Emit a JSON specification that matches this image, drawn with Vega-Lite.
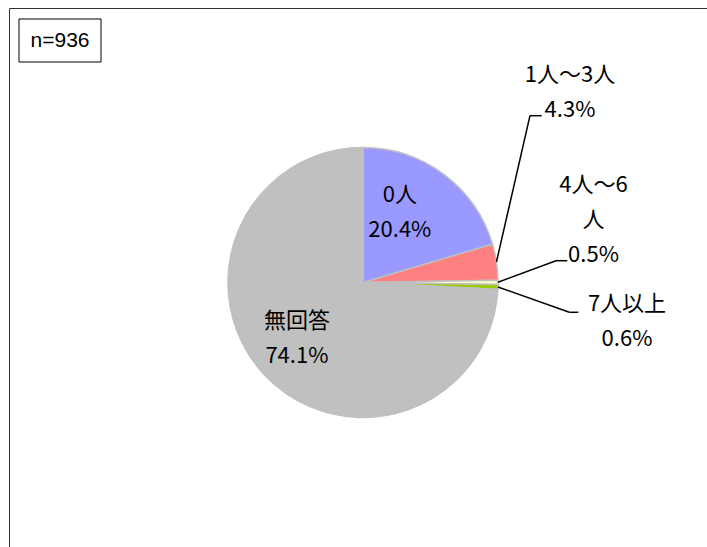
{
  "$schema": "https://vega.github.io/schema/vega-lite/v6.json",
  "width": 708,
  "height": 549,
  "autosize": {"type": "none"},
  "padding": {"left": 9, "top": 8, "right": -10, "bottom": -10},
  "background": "white",
  "config": {
    "view": {"stroke": "#333333", "strokeWidth": 1},
    "font": "Noto Sans CJK JP"
  },
  "datasets": {
    "shares": [
      {"seq": 1, "category": "0人", "display": "0人", "pct": 20.4},
      {"seq": 2, "category": "1人～3人", "display": "1人～3人", "pct": 4.3},
      {"seq": 3, "category": "4人～6人", "display": "4人～6\n人", "pct": 0.5},
      {"seq": 4, "category": "7人以上", "display": "7人以上", "pct": 0.6},
      {"seq": 5, "category": "無回答", "display": "無回答", "pct": 74.1}
    ],
    "sample": [{"n": 936}]
  },
  "layer": [
    {
      "data": {"name": "shares"},
      "mark": {"type": "arc", "outerRadius": 135, "stroke": "#bfbfbf", "strokeWidth": 1.5},
      "encoding": {
        "theta": {"field": "pct", "type": "quantitative", "stack": true},
        "order": {"field": "seq", "type": "quantitative"},
        "color": {
          "field": "category",
          "type": "nominal",
          "scale": {
            "domain": ["0人", "1人～3人", "4人～6人", "7人以上", "無回答"],
            "range": ["#9999ff", "#ff8080", "#ffffcc", "#99cc00", "#c0c0c0"]
          },
          "legend": null
        }
      }
    },
    {
      "data": {"name": "shares"},
      "transform": [
        {"joinaggregate": [{"op": "sum", "field": "pct", "as": "total"}]},
        {"window": [{"op": "sum", "field": "pct", "as": "cum"}], "sort": [{"field": "seq", "order": "ascending"}], "frame": [null, 0]},
        {"calculate": "2*PI*(datum.cum - datum.pct/2)/datum.total", "as": "mid"},
        {"filter": "datum.seq >= 2 && datum.seq <= 4"},
        {"calculate": "135*sin(datum.mid)", "as": "sx"},
        {"calculate": "135*cos(datum.mid)", "as": "sy"},
        {"calculate": "datum.seq == 2 ? 167 : datum.seq == 3 ? 193 : 206.3", "as": "ex"},
        {"calculate": "datum.seq == 2 ? 166.8 : datum.seq == 3 ? 21.8 : -29.8", "as": "ey"}
      ],
      "mark": {"type": "rule", "color": "black", "strokeWidth": 1.5},
      "encoding": {
        "x": {"field": "sx", "type": "quantitative", "scale": {"domain": [-354, 354], "nice": false, "zero": false}, "axis": null},
        "y": {"field": "sy", "type": "quantitative", "scale": {"domain": [-274.5, 274.5], "nice": false, "zero": false}, "axis": null},
        "x2": {"field": "ex"},
        "y2": {"field": "ey"}
      }
    },
    {
      "data": {"name": "shares"},
      "transform": [
        {"filter": "datum.seq >= 2 && datum.seq <= 4"},
        {"calculate": "datum.seq == 2 ? 167 : datum.seq == 3 ? 193 : 206.3", "as": "ex"},
        {"calculate": "datum.seq == 2 ? 178.7 : datum.seq == 3 ? 204.3 : 215.3", "as": "hx"},
        {"calculate": "datum.seq == 2 ? 166.8 : datum.seq == 3 ? 21.8 : -29.8", "as": "ey"}
      ],
      "mark": {"type": "rule", "color": "black", "strokeWidth": 1.5},
      "encoding": {
        "x": {"field": "ex", "type": "quantitative", "scale": {"domain": [-354, 354], "nice": false, "zero": false}, "axis": null},
        "x2": {"field": "hx"},
        "y": {"field": "ey", "type": "quantitative", "scale": {"domain": [-274.5, 274.5], "nice": false, "zero": false}, "axis": null}
      }
    },
    {
      "data": {"name": "shares"},
      "transform": [
        {"joinaggregate": [{"op": "sum", "field": "pct", "as": "total"}]},
        {"window": [{"op": "sum", "field": "pct", "as": "cum"}], "sort": [{"field": "seq", "order": "ascending"}], "frame": [null, 0]},
        {"calculate": "2*PI*(datum.cum - datum.pct/2)/datum.total", "as": "mid"},
        {"calculate": "datum.display + '\\n' + format(datum.pct, '.1f') + '%'", "as": "label"},
        {"calculate": "datum.seq == 1 ? 80*sin(datum.mid) - 11 : datum.seq == 5 ? 87*sin(datum.mid) - 3 : datum.seq == 2 ? 207 : datum.seq == 3 ? 230.5 : 264", "as": "lx"},
        {"calculate": "datum.seq == 1 ? 80*cos(datum.mid) + 23.9 : datum.seq == 5 ? 87*cos(datum.mid) + 21.9 : datum.seq == 2 ? 207.2 : datum.seq == 3 ? 97.2 : -21.5", "as": "ly"}
      ],
      "mark": {
        "type": "text",
        "align": "center",
        "baseline": "middle",
        "lineBreak": "\n",
        "lineHeight": 35,
        "fontSize": 22,
        "font": "Noto Sans CJK JP",
        "color": "black"
      },
      "encoding": {
        "x": {"field": "lx", "type": "quantitative", "scale": {"domain": [-354, 354], "nice": false, "zero": false}, "axis": null},
        "y": {"field": "ly", "type": "quantitative", "scale": {"domain": [-274.5, 274.5], "nice": false, "zero": false}, "axis": null},
        "text": {"field": "label"}
      }
    },
    {
      "data": {"name": "sample"},
      "mark": {"type": "rect", "fill": "white", "stroke": "black", "strokeWidth": 1},
      "encoding": {
        "x": {"datum": -344, "type": "quantitative", "scale": {"domain": [-354, 354], "nice": false, "zero": false}, "axis": null},
        "x2": {"datum": -262},
        "y": {"datum": 263.5, "type": "quantitative", "scale": {"domain": [-274.5, 274.5], "nice": false, "zero": false}, "axis": null},
        "y2": {"datum": 220.5}
      }
    },
    {
      "data": {"name": "sample"},
      "transform": [{"calculate": "'n=' + datum.n", "as": "label"}],
      "mark": {"type": "text", "align": "center", "baseline": "middle", "fontSize": 21, "font": "Liberation Sans", "color": "black"},
      "encoding": {
        "x": {"datum": -303, "type": "quantitative", "scale": {"domain": [-354, 354], "nice": false, "zero": false}, "axis": null},
        "y": {"datum": 242, "type": "quantitative", "scale": {"domain": [-274.5, 274.5], "nice": false, "zero": false}, "axis": null},
        "text": {"field": "label"}
      }
    }
  ]
}
